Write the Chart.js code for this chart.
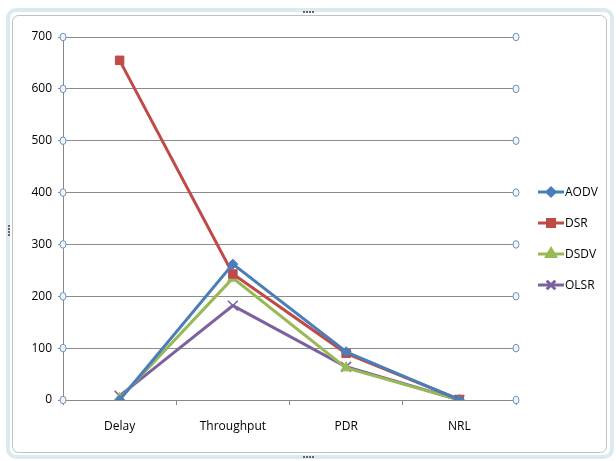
<!DOCTYPE html>
<html>
<head>
<meta charset="utf-8">
<script src="https://cdn.jsdelivr.net/npm/chart.js@4/dist/chart.umd.min.js"></script>
<style>
  html, body { margin: 0; padding: 0; background: #fff; }
  #wrap { width: 616px; height: 461px; }
</style>
</head>
<body>
<div id="wrap"><canvas id="lineChart" width="616" height="461"></canvas></div>
<script>
// data
var categories = ['Delay', 'Throughput', 'PDR', 'NRL']
var aodv = [0, 262, 93, 0]
var dsr = [655, 243, 90, 1]
var dsdv = [3, 235, 62, 0]
var olsr = [8, 182, 64, 0]
var yTicks = [0, 100, 200, 300, 400, 500, 600, 700]

var fontFam = '"Open Sans", "Noto Sans", sans-serif'

// excel-ish frame + selection handles
var framePlugin = {
  id: 'frame',
  beforeDraw: function(chart) {
    var c = chart.ctx
    c.save()
    c.fillStyle = '#fff'
    c.fillRect(0, 0, 616, 461)
    c.strokeStyle = '#dce9ee'
    c.lineWidth = 4
    c.beginPath()
    c.roundRect(8, 10, 604, 447, 8)
    c.stroke()
    c.strokeStyle = '#b7c4ca'
    c.lineWidth = 1
    c.beginPath()
    c.roundRect(12.5, 15.5, 594, 437, 6)
    c.stroke()
    // grab dots
    c.fillStyle = '#666'
    for (var i = 0; i < 4; i++) {
      c.fillRect(303 + i * 3, 11, 2, 2)
      c.fillRect(303 + i * 3, 456, 2, 2)
      c.fillRect(8, 225 + i * 3, 2, 2)
    }
    c.restore()
  },
  afterDraw: function(chart) {
    var c = chart.ctx
    var y = chart.scales.y
    var a = chart.chartArea
    c.save()
    c.strokeStyle = '#6f93b8'
    c.fillStyle = '#eef4fa'
    c.lineWidth = 1
    yTicks.forEach(function(v) {
      var py = y.getPixelForValue(v)
      ;[a.left, a.right].forEach(function(px) {
        c.beginPath()
        c.ellipse(px, py, 3, 3.8, 0, 0, Math.PI * 2)
        c.fill()
        c.stroke()
      })
    })
    // legend with line + marker
    var lx = 538, ly = 192
    chart.data.datasets.forEach(function(ds, i) {
      var yy = ly + i * 31
      c.strokeStyle = ds.borderColor
      c.lineWidth = 3
      c.beginPath()
      c.moveTo(lx, yy)
      c.lineTo(lx + 26, yy)
      c.stroke()
      Chart.helpers.drawPoint(c, {
        pointStyle: ds.pointStyle, radius: ds.pointRadius - 1, borderWidth: ds.pointBorderWidth || 1, rotation: 0
      }, lx + 13, yy)
      c.fillStyle = ds.pointBackgroundColor
      c.strokeStyle = ds.borderColor
      c.lineWidth = ds.pointBorderWidth || 1
      c.fill()
      c.stroke()
      c.fillStyle = '#000'
      c.font = '12px ' + fontFam
      c.textBaseline = 'middle'
      c.textAlign = 'left'
      c.fillText(ds.label, lx + 27, yy + 1)
    })
    c.restore()
  }
}

function mk(label, data, color, style, r, bw) {
  return {
    label: label,
    data: data,
    borderColor: color,
    backgroundColor: color,
    pointBackgroundColor: color,
    pointBorderColor: color,
    pointStyle: style,
    pointRadius: r,
    pointBorderWidth: bw,
    borderWidth: 3,
    tension: 0,
    fill: false
  }
}

new Chart(document.getElementById('lineChart'), {
  type: 'line',
  data: {
    labels: categories,
    datasets: [
      mk('AODV', aodv, '#4a7ebb', 'rectRot', 5, 1),
      mk('DSR', dsr, '#be4b48', 'rect', 6, 1),
      mk('DSDV', dsdv, '#98b954', 'triangle', 6, 1),
      mk('OLSR', olsr, '#7d60a0', 'crossRot', 7, 1.5)
    ]
  },
  options: {
    responsive: false,
    animation: false,
    layout: { padding: { left: 18, right: 100, top: 37, bottom: 0 } },
    plugins: { legend: { display: false }, tooltip: { enabled: false } },
    scales: {
      x: {
        offset: true,
        grid: { display: true, offset: true, drawOnChartArea: false, tickLength: 5, color: '#888' },
        border: { color: '#888' },
        ticks: { color: '#000', font: { family: fontFam, size: 12 }, padding: 14 },
        afterFit: function(s) { s.height = 61 }
      },
      y: {
        min: 0, max: 700,
        grid: { color: '#8c8c8c', tickLength: 5 },
        border: { color: '#888' },
        ticks: { stepSize: 100, color: '#000', font: { family: fontFam, size: 12 }, padding: 6 },
        afterFit: function(s) { s.width = 45 }
      }
    }
  },
  plugins: [framePlugin]
})
</script>
</body>
</html>
